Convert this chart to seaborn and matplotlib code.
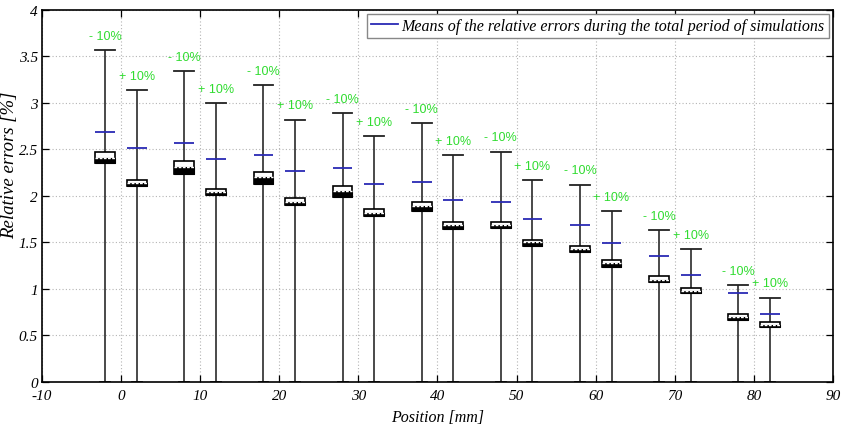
import numpy as np
import pandas as pd
import matplotlib
matplotlib.use("Agg")
import matplotlib.pyplot as plt
from matplotlib.lines import Line2D
import seaborn as sns

# Sensor positions: each location is simulated with -10 % and +10 % variants
positions = [-2, 2, 8, 12, 18, 22, 28, 32, 38, 42, 48, 52, 58, 62, 68, 72, 78, 82]
variant_labels = ["- 10%", "+ 10%"] * 9

# Box statistics of the relative errors [%]
q1 = [2.35, 2.11, 2.24, 2.015, 2.13, 1.90, 1.99, 1.78, 1.836,
      1.64, 1.654, 1.464, 1.393, 1.24, 1.07, 0.954, 0.671, 0.596]
median = [2.41, 2.14, 2.31, 2.04, 2.20, 1.94, 2.05, 1.82, 1.89,
          1.69, 1.69, 1.50, 1.43, 1.28, 1.10, 0.98, 0.70, 0.61]
q3 = [2.47, 2.17, 2.375, 2.08, 2.26, 1.98, 2.11, 1.86, 1.93,
      1.72, 1.715, 1.53, 1.464, 1.31, 1.136, 1.01, 0.729, 0.646]
err_min = [0.0] * 18
err_max = [3.57, 3.14, 3.34, 3.00, 3.19, 2.82, 2.89, 2.64, 2.78,
           2.44, 2.476, 2.17, 2.12, 1.84, 1.636, 1.425, 1.043, 0.907]
# Mean relative error over the whole simulation period
means = [2.686, 2.52, 2.565, 2.40, 2.44, 2.27, 2.30, 2.125, 2.147,
         1.96, 1.94, 1.75, 1.686, 1.49, 1.357, 1.15, 0.954, 0.732]

# Five-number summaries -> long table (percentiles of these reproduce the stats)
rows = []
for p, a, b, c, d, e in zip(positions, err_min, q1, median, q3, err_max):
    for v in (a, b, c, d, e):
        rows.append({"position": p, "error": v})
df = pd.DataFrame(rows)

serif = ["Liberation Serif", "DejaVu Serif"]
fig = plt.figure(figsize=(8.45, 4.31), dpi=100)
ax = fig.add_axes([0.0497, 0.1114, 0.9361, 0.8631])

box_w = 2.5
sns.boxplot(
    data=df, x="position", y="error", native_scale=True,
    whis=(0, 100), width=box_w / 4, fill=True, color="white",
    linecolor="black", linewidth=1.2, showfliers=False, ax=ax,
    boxprops=dict(facecolor="white", edgecolor="black", linewidth=1.2, zorder=3),
    whiskerprops=dict(color="#3a3a3a", linewidth=1.3),
    capprops=dict(color="#222222", linewidth=1.3),
    medianprops=dict(color="white", linewidth=1.0, linestyle=(0, (2, 1)), zorder=5),
)

# Make caps span the whole box width
for cap in [l for l in ax.lines if len(l.get_xdata()) == 2
            and l.get_ydata()[0] == l.get_ydata()[1]
            and l.get_ydata()[0] in err_max]:
    xc = np.mean(cap.get_xdata())
    cap.set_xdata([xc - box_w / 2, xc + box_w / 2])

# Dense lower part of each box
ax.bar(positions, np.array(median) - np.array(q1), bottom=q1, width=box_w,
       color="black", edgecolor="black", linewidth=0.8, zorder=4)

# Means
pos = np.array(positions, dtype=float)
ax.hlines(means, pos - box_w / 2, pos + box_w / 2, color="#2a2ab4",
          linewidth=1.3, zorder=6)

# Variant labels above each whisker
for p, top, lab in zip(positions, err_max, variant_labels):
    ax.annotate(lab, (p, top), xytext=(0, 6), textcoords="offset points",
                ha="center", va="bottom", color="#30dc30", fontsize=9,
                family=["Liberation Sans", "DejaVu Sans"])

ax.set_xlim(-10, 90)
ax.set_ylim(0, 4)
ax.set_xticks(np.arange(-10, 91, 10))
ax.set_yticks(np.arange(0, 4.01, 0.5))
ax.set_xticklabels([f"{v:g}" for v in np.arange(-10, 91, 10)])
ax.set_yticklabels([f"{v:g}" for v in np.arange(0, 4.01, 0.5)])
for lab in ax.get_xticklabels() + ax.get_yticklabels():
    lab.set_family(serif)
    lab.set_style("italic")
    lab.set_fontsize(11)
ax.tick_params(direction="in", top=True, right=True, length=5, width=0.9,
               pad=3, colors="black")
ax.tick_params(axis="x", pad=5)
ax.set_axisbelow(True)
ax.grid(True, linestyle=(0, (1, 2)), color="#b4b4b4", linewidth=0.8)
for s in ax.spines.values():
    s.set_color("black")
    s.set_linewidth(1.2)

ax.set_xlabel("Position [mm]", family=serif, style="italic", fontsize=11.5, labelpad=5)
ax.set_ylabel("Relative errors [%]", family=serif, style="italic", fontsize=13.5)
ax.yaxis.set_label_coords(-0.03, 0.585)

handle = Line2D([], [], color="#2a2ab4", linewidth=1.3)
leg = ax.legend([handle], ["Means of the relative errors during the total period of simulations"],
                loc="upper right", bbox_to_anchor=(0.9945, 0.989), borderaxespad=0,
                frameon=True, fancybox=False, edgecolor="#888888", framealpha=1,
                handlelength=1.7, handletextpad=0.2, borderpad=0.25,
                prop=dict(family=serif, style="italic", size=11.5))
leg.get_frame().set_linewidth(1.0)

fig.savefig("out.png", dpi=100)
